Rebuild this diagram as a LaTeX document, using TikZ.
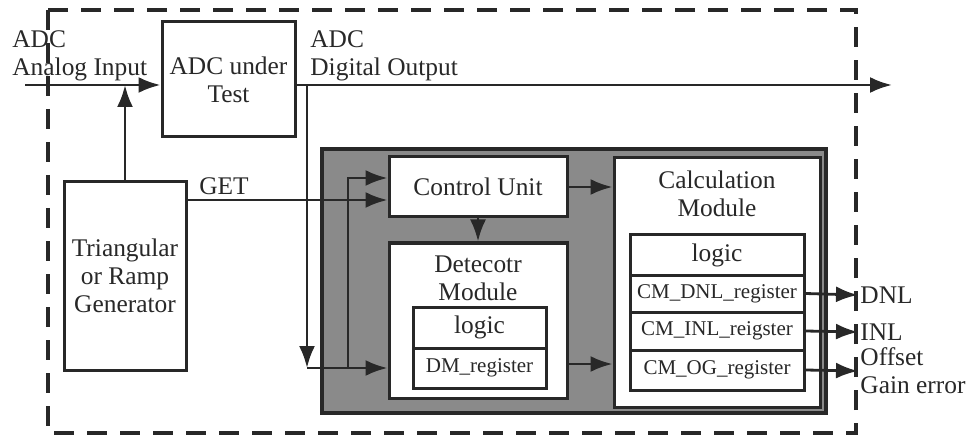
\documentclass[tikz,border=0pt]{standalone}
\usepackage{fontspec}
\setmainfont{Liberation Serif}
\newfontfamily\tnr{Liberation Serif}
\usetikzlibrary{arrows.meta}
\usetikzlibrary{math}
\definecolor{fgray}{RGB}{138,138,138}
\definecolor{fdark}{RGB}{40,40,40}

\tikzset{
>={Latex[length=11pt,width=8pt]},
blk/.style={draw=fdark, line width=1.5pt, fill=white, inner sep=0pt, align=center},
reg/.style={blk, font=\tnr\fontsize{10.5}{12}\selectfont},
lbl/.style={inner sep=1pt, align=left},
wire/.style={line width=1.4pt, color=fdark},
}

\begin{document}
\begin{tikzpicture}[x=0.5pt,y=-0.5pt, font=\tnr\fontsize{12.7}{14}\selectfont, text=fdark]

\tikzmath{
\yio = 85; % main signal line
\yget = 200;
\ydm = 368;
\ycu = 178;
\ydo = 364;
\xbr = 307; % digital output branch
\xcu = 348;
}

\useasboundingbox (0,0) rectangle (968,438);

%frame:
\draw[line width=2pt, dash pattern=on 10pt off 6.5pt, color=fdark] (48,10) rectangle (856,433);

%gray area
\node[draw=fdark, line width=2pt, fill=fgray, minimum width=252pt, minimum height=132pt, inner sep=0pt] (fpga) at (574,281) {};

%blocks:
\node[blk, minimum width=66.5pt, minimum height=57.5pt] (dut) at (228.5,79.5) {ADC under\\Test};
\node[blk, minimum width=61pt, minimum height=94pt] (gen) at (125,276) {Triangular\\or Ramp\\Generator};
\node[blk, minimum width=89pt, minimum height=30pt] (cu) at (478,187) {Control Unit};

\node[blk, minimum width=89pt, minimum height=77.5pt] (dm) at (478,320.5) {};
\node[anchor=north, align=center, inner sep=0pt] (dmname) at (478,255) {Detecotr\\Module};
\node[blk, minimum width=66.5pt, minimum height=20.5pt] (dmlogic) at (479.5,327.5) {logic};
\node[reg, minimum width=66.5pt, minimum height=20pt] (dmreg) at (479.5,368) {DM\_register};

\node[blk, minimum width=103pt, minimum height=124.5pt] (cm) at (717,282.5) {};
\node[anchor=north, align=center, inner sep=0pt] (cmname) at (717,170) {Calculation\\Module};
\node[blk, minimum width=87pt, minimum height=20pt] (cmlogic) at (717,255) {logic};
\node[reg, minimum width=87pt, minimum height=18.5pt] (cmdnl) at (717,293.5) {CM\_DNL\_register};
\node[reg, minimum width=87pt, minimum height=19pt] (cminl) at (717,331) {CM\_INL\_reigster};
\node[reg, minimum width=87pt, minimum height=20pt] (cmog) at (717,370) {CM\_OG\_register};

%texts:
\node[lbl, anchor=west] (ain) at (10,56) {ADC\\Analog Input};
\node[lbl, anchor=west] (aout) at (308,56) {ADC\\Digital Output};
\node[lbl] (getlbl) at (224,186) {GET};
\node[lbl, anchor=west] (dnl) at (858,295) {DNL};
\node[lbl, anchor=west] (inl) at (858,332) {INL};
\node[lbl, anchor=west] (og) at (858,371) {Offset\\Gain error};

\coordinate (in) at (25,\yio);
\coordinate (out) at (892,\yio);
\coordinate (get) at (0,\yget);
\coordinate (br) at (\xbr,\yio);
\coordinate (brd) at (\xbr,\ydm);
\coordinate (cub) at (\xcu,\ydm);
\coordinate (cut) at (0,\ycu);
\coordinate (dmo) at (0,\ydo);

%signals:
\draw[wire,->] (in) -- (in -| dut.west);
\draw[wire,->] (dut.east |- in) -- (out);
\draw[wire,->] (gen.north) -- (gen.north |- in);
\draw[wire,->] (gen.east |- get) -- (cu.west |- get);
\draw[wire,->] (br) -- (brd);
\draw[wire,->] (brd) -- (brd -| dm.west);
\draw[wire,->] (cub) |- (cu.west |- cut);
\draw[wire,->] (cu.south) -- (dm.north);
\draw[wire,->] (cu.east) -- (cu.east -| cm.west);
\draw[wire,->] (dm.east |- dmo) -- (cm.west |- dmo);
%outputs
\draw[wire,->] (cmdnl.east) -- (dnl.west);
\draw[wire,->] (cminl.east) -- (inl.west);
\draw[wire,->] (cmog.east) -- (og.west);

\end{tikzpicture}
\end{document}
